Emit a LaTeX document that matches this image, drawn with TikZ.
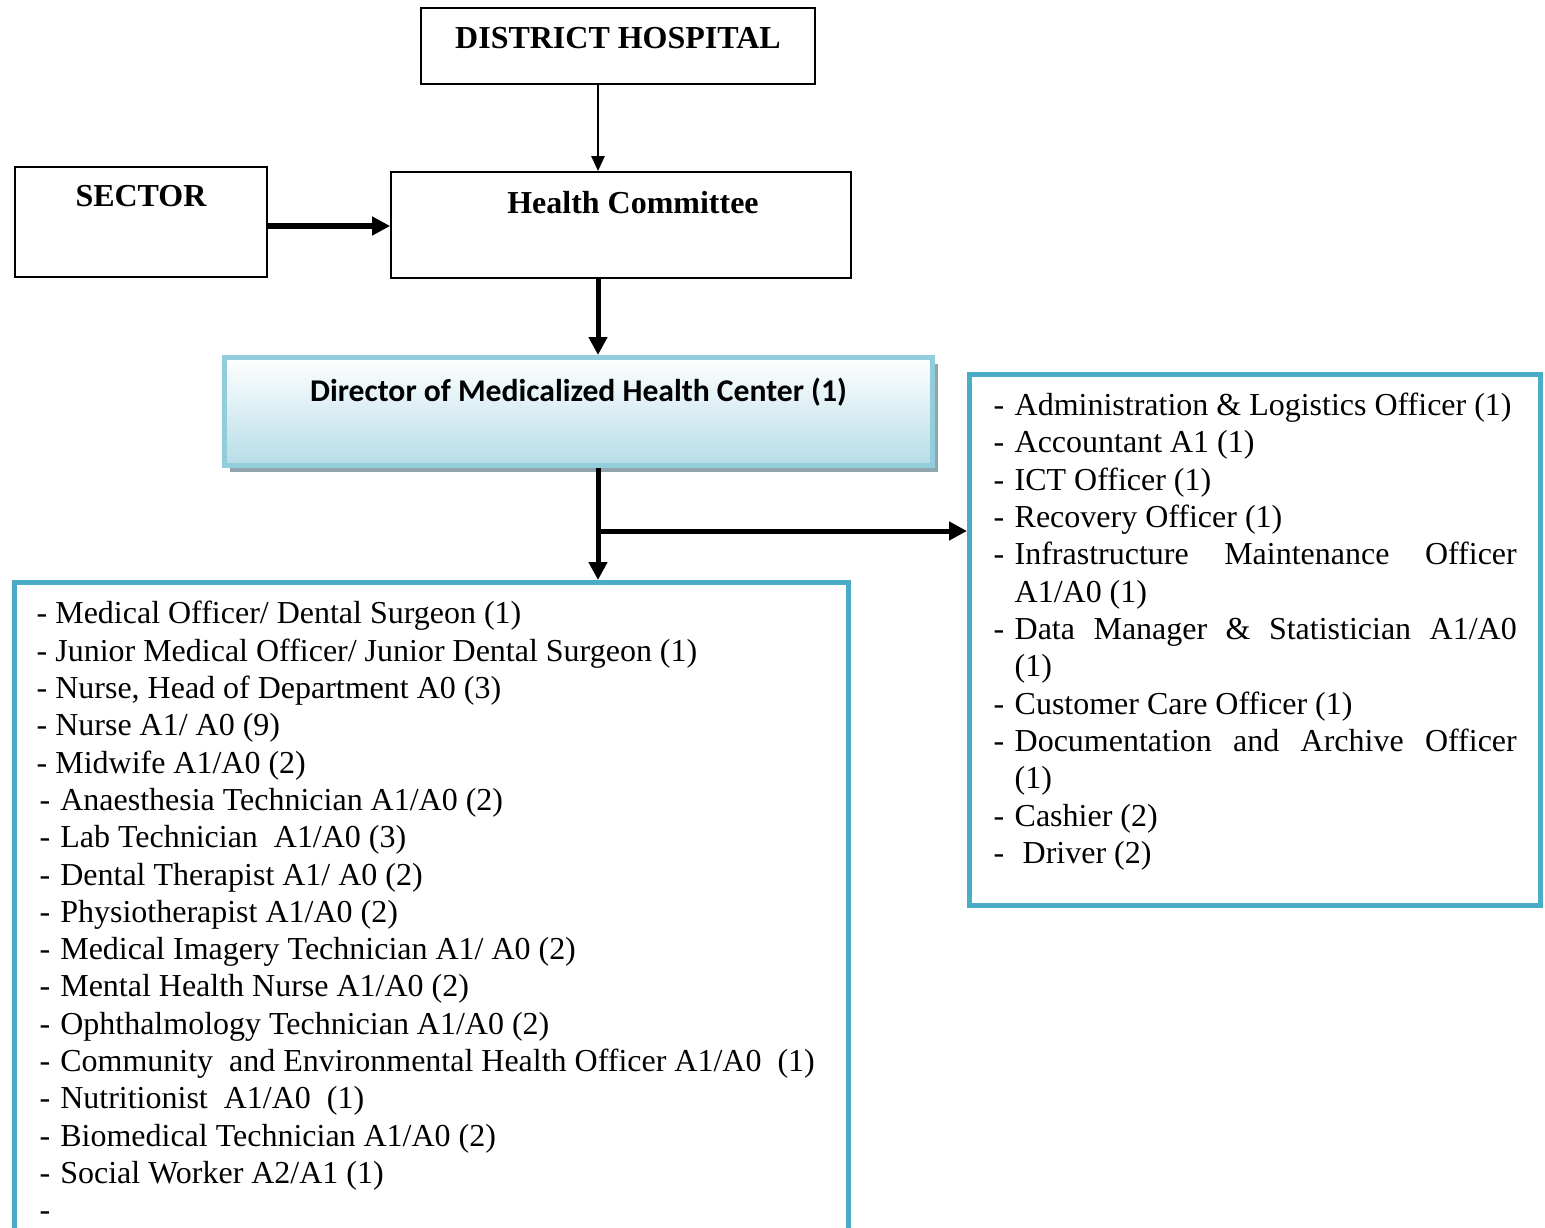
\documentclass[tikz,border=0pt]{standalone}
\usepackage{fontspec}
\setmainfont{Liberation Serif}
\newfontfamily\calibri{Carlito}
\usepackage{tikz}
\usetikzlibrary{arrows.meta, positioning, shadows}
\definecolor{staffBlue}{HTML}{4BACC6}
\definecolor{headBorder}{HTML}{92CDDC}
\definecolor{headFill}{HTML}{B6DDE8}
\definecolor{headShadow}{HTML}{8FA6AD}

\newcommand{\duty}[1]{\par\hangindent=0.21cm\hangafter=1\noindent\makebox[0.21cm][l]{-}#1\par}

\begin{document}
\begin{tikzpicture}[
    orgbox/.style={draw, line width=0.5pt, align=center, font=\fontsize{9.1}{10.6}\selectfont\bfseries, text height=0.25cm, text depth=#1},
    headbox/.style={draw=headBorder, line width=0.05cm, top color=white, bottom color=headFill,
        general shadow={fill=headShadow, shadow xshift=0.05cm, shadow yshift=-0.06cm},
        font=\calibri\fontsize{9}{10.6}\selectfont\bfseries, text height=0.25cm, text depth=0.46cm},
    staffbox/.style={draw=staffBlue, line width=0.05cm},
    roles/.style={inner sep=0pt, font=\fontsize{9.1}{10.62}\selectfont},
    link/.style={-{Triangle[length=0.15cm, width=0.13cm]}, line width=0.7pt},
    bigLink/.style={-{Triangle[length=0.18cm, width=0.18cm]}, line width=0.05cm},
]
    \useasboundingbox (0,0) rectangle (15.45,-12.27);

    % Top of the chart
    \node[orgbox=0.2cm, minimum width=3.94cm, minimum height=0.76cm] (hospital) at (6.18,-0.46) {DISTRICT HOSPITAL};
    \node[orgbox=0.56cm, minimum width=2.52cm, minimum height=1.10cm] (sector) at (1.41,-2.22) {SECTOR};
    \node[orgbox=0.48cm, minimum width=4.60cm, minimum height=1.06cm] (committee) at (6.21,-2.25) {\hspace*{0.24cm}Health Committee};

    % Director
    \node[headbox, minimum width=7.08cm, minimum height=1.08cm] (director) at (5.785,-4.115) {Director of Medicalized Health Center (1)};

    % Staff boxes
    \node[staffbox, minimum width=8.34cm, minimum height=6.625cm] (clinical) at (4.315,-9.1375) {};
    \node[staffbox, minimum width=5.71cm, minimum height=5.31cm] (support) at (12.55,-6.40) {};

    \coordinate (spine) at (5.98,-5.31);

    % Clinical staff
    \node[roles, align=left, anchor=north west] (clinicalList) at (0.36,-6.005) {%
        - Medical Officer/ Dental Surgeon (1)\\
        - Junior Medical Officer/ Junior Dental Surgeon (1)\\
        - Nurse, Head of Department A0 (3)\\
        - Nurse A1/ A0 (9)\\
        - Midwife A1/A0 (2)\\
        \hspace*{0.03cm}-\hspace{0.1cm}Anaesthesia Technician A1/A0 (2)\\
        \hspace*{0.03cm}-\hspace{0.1cm}Lab Technician\ \ A1/A0 (3)\\
        \hspace*{0.03cm}-\hspace{0.1cm}Dental Therapist A1/ A0 (2)\\
        \hspace*{0.03cm}-\hspace{0.1cm}Physiotherapist A1/A0 (2)\\
        \hspace*{0.03cm}-\hspace{0.1cm}Medical Imagery Technician A1/ A0 (2)\\
        \hspace*{0.03cm}-\hspace{0.1cm}Mental Health Nurse A1/A0 (2)\\
        \hspace*{0.03cm}-\hspace{0.1cm}Ophthalmology Technician A1/A0 (2)\\
        \hspace*{0.03cm}-\hspace{0.1cm}Community\ \ and Environmental Health Officer A1/A0\ \ (1)\\
        \hspace*{0.03cm}-\hspace{0.1cm}Nutritionist\ \ A1/A0\ \ (1)\\
        \hspace*{0.03cm}-\hspace{0.1cm}Biomedical Technician A1/A0 (2)\\
        \hspace*{0.03cm}-\hspace{0.1cm}Social Worker A2/A1 (1)\\
        \hspace*{0.03cm}-};

    % Support staff
    \node[roles, text width=5.23cm, align=justify, anchor=north west] (supportList) at (9.93,-3.775) {%
        \hyphenpenalty=10000
        \duty{Administration \& Logistics Officer (1)}
        \duty{Accountant A1 (1)}
        \duty{ICT Officer (1)}
        \duty{Recovery Officer (1)}
        \duty{Infrastructure Maintenance Officer\linebreak A1/A0 (1)}
        \duty{Data Manager \& Statistician A1/A0\linebreak (1)}
        \duty{Customer Care Officer (1)}
        \duty{Documentation and Archive Officer\linebreak (1)}
        \duty{Cashier (2)}
        \duty{\hspace{0.08cm}Driver (2)}};

    % Connectors
    \draw[link] (hospital.south -| spine) -- (committee.north -| spine);
    \draw[bigLink] ([yshift=-0.04cm]sector.east) -- ([yshift=-0.04cm]sector.east -| committee.west);
    \draw[bigLink] (committee.south -| spine) -- (director.north -| spine);
    \draw[bigLink] (director.south -| spine) -- (clinical.north -| spine);
    \draw[bigLink] (spine) -- (spine -| support.west);
\end{tikzpicture}
\end{document}
